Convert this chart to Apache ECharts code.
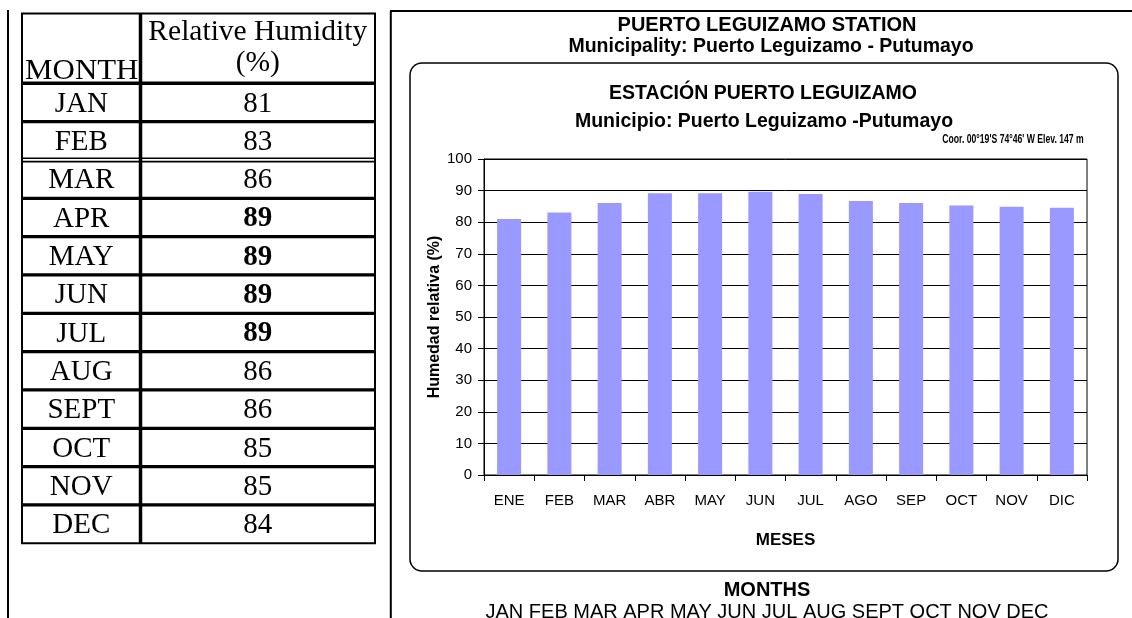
<!DOCTYPE html>
<html>
<head>
<meta charset="utf-8">
<script src="https://cdn.jsdelivr.net/npm/echarts@6/dist/echarts.min.js"></script>
<style>
  html, body { margin: 0; padding: 0; background: #ffffff; }
  #chart { width: 1132px; height: 618px; }
</style>
</head>
<body>
<div id="chart"></div>
<script>
// Monthly relative humidity (%) at Puerto Leguizamo station, Putumayo
const chartMonths = ['ENE', 'FEB', 'MAR', 'ABR', 'MAY', 'JUN', 'JUL', 'AGO', 'SEP', 'OCT', 'NOV', 'DIC'];
const chartHumidity = [81.0, 83.1, 86.1, 89.2, 89.2, 89.6, 88.9, 86.7, 86.1, 85.3, 84.9, 84.6];

// Same figures, rounded, as listed in the side table
const tableMonths = ['JAN', 'FEB', 'MAR', 'APR', 'MAY', 'JUN', 'JUL', 'AUG', 'SEPT', 'OCT', 'NOV', 'DEC'];
const tableHumidity = [81, 83, 86, 89, 89, 89, 89, 86, 86, 85, 85, 84];
const tableHeader = ['MONTH', 'Relative Humidity', '(%)'];

// Axis range of the humidity scale
const yMin = 0;
const yMax = 100;
const yStep = 10;

// Titles
const outerTitle = 'PUERTO LEGUIZAMO STATION';
const outerSubtitle = 'Municipality: Puerto Leguizamo - Putumayo';
const innerTitle = 'ESTACIÓN PUERTO LEGUIZAMO';
const innerSubtitle = 'Municipio: Puerto Leguizamo -Putumayo';
const stationInfo = "Coor. 00°19'S 74°46' W Elev. 147 m";
const yName = 'Humedad relativa (%)';
const xName = 'MESES';
const monthsCaption = 'MONTHS';

const SANS = "'Liberation Sans', Arial, Helvetica, sans-serif";
const SERIF = "'Liberation Serif', 'Times New Roman', serif";

// ---- table layout ----
const tbl = { left: 22, right: 375, top: 13.5, headBottom: 83.3, col: 140.5 };
const rowH = (543.3 - tbl.headBottom) / tableMonths.length;
const tbBottom = tbl.headBottom + rowH * tableMonths.length;
const doubleRuleAfter = 1; // a double rule separates FEB from MAR
const maxHumidity = Math.max(...tableHumidity);

function hLine(x1, x2, y, w) {
  return { type: 'line', silent: true, shape: { x1: x1, y1: y, x2: x2, y2: y },
           style: { stroke: '#000', lineWidth: w } };
}
function vLine(x, y1, y2, w) {
  return { type: 'line', silent: true, shape: { x1: x, y1: y1, x2: x, y2: y2 },
           style: { stroke: '#000', lineWidth: w } };
}
function label(text, x, y, size, opts) {
  opts = opts || {};
  return {
    type: 'text', silent: true, x: x, y: y,
    scaleX: opts.scaleX || 1,
    style: {
      text: text, fill: '#000', fontSize: size,
      fontFamily: opts.family || SANS, fontWeight: opts.bold ? 'bold' : 'normal',
      align: 'center', verticalAlign: 'middle'
    }
  };
}

const graphics = [];

// page cell rules
graphics.push(vLine(8, 10, 618, 2));
graphics.push(vLine(390.8, 11, 618, 2));
graphics.push(hLine(390, 1132, 11, 2));

// table frame
graphics.push({ type: 'rect', silent: true,
  shape: { x: tbl.left, y: tbl.top, width: tbl.right - tbl.left, height: tbBottom - tbl.top },
  style: { fill: 'none', stroke: '#000', lineWidth: 2 } });
graphics.push(vLine(tbl.col, tbl.top, tbBottom, 3.5));
graphics.push(hLine(tbl.left, tbl.right, tbl.headBottom, 3.5));

// header texts
const monthColX = (tbl.left + tbl.col) / 2;
const valueColX = (tbl.col + tbl.right) / 2;
graphics.push(label(tableHeader[0], monthColX + 0.5, 71, 30, { family: SERIF, scaleX: 1.03 }));
graphics.push(label(tableHeader[1], valueColX, 32, 29.5, { family: SERIF }));
graphics.push(label(tableHeader[2], valueColX, 63, 29.5, { family: SERIF }));

// body rows
tableMonths.forEach(function (m, i) {
  const top = tbl.headBottom + i * rowH;
  const cy = top + rowH / 2 + 1.5;
  if (i > 0) {
    if (i - 1 === doubleRuleAfter) {
      graphics.push(hLine(tbl.left, tbl.right, top - 1.7, 1.6));
      graphics.push(hLine(tbl.left, tbl.right, top + 1.7, 1.6));
    } else {
      graphics.push(hLine(tbl.left, tbl.right, top, 3.3));
    }
  }
  graphics.push(label(m, monthColX, cy, 29, { family: SERIF }));
  graphics.push(label(String(tableHumidity[i]), valueColX, cy, 29,
    { family: SERIF, bold: tableHumidity[i] === maxHumidity }));
});

// rounded frame around the chart
graphics.push({ type: 'rect', silent: true,
  shape: { x: 410, y: 63, width: 708, height: 508, r: 12 },
  style: { fill: 'none', stroke: '#000', lineWidth: 1.5 } });

// titles and captions
graphics.push(label(outerTitle, 767, 25, 20, { bold: true }));
graphics.push(label(outerSubtitle, 771, 47, 19.5, { bold: true }));
graphics.push(label(innerTitle, 763, 94, 19.5, { bold: true }));
graphics.push(label(innerSubtitle, 764, 122, 19.5, { bold: true }));
graphics.push(label(stationInfo, 1013, 139, 13.5, { bold: true, scaleX: 0.64 }));
graphics.push(label(monthsCaption, 767, 590, 20, { bold: true }));
graphics.push(label(tableMonths.join(' '), 767, 612, 20));

const chart = echarts.init(document.getElementById('chart'), null, { renderer: 'canvas' });
chart.setOption({
  animation: false,
  backgroundColor: '#ffffff',
  textStyle: { fontFamily: SANS, color: '#000' },
  grid: {
    left: 484, top: 159, width: 603, height: 316,
    show: true, borderColor: '#000', borderWidth: 1, backgroundColor: 'transparent',
    containLabel: false, outerBoundsMode: 'none'
  },
  xAxis: {
    type: 'category',
    data: chartMonths,
    boundaryGap: true,
    axisLine: { show: true, lineStyle: { color: '#000', width: 1 } },
    axisTick: { show: true, length: 6, alignWithLabel: false, lineStyle: { color: '#000', width: 1 } },
    axisLabel: { show: true, interval: 0, color: '#000', fontSize: 15, margin: 18, fontFamily: SANS },
    splitLine: { show: false },
    name: xName,
    nameLocation: 'middle',
    nameGap: 57,
    nameMoveOverlap: false,
    nameTextStyle: { color: '#000', fontSize: 17, fontWeight: 'bold', fontFamily: SANS }
  },
  yAxis: {
    type: 'value',
    min: yMin, max: yMax, interval: yStep,
    axisLine: { show: true, lineStyle: { color: '#000', width: 1 } },
    axisTick: { show: true, length: 6, lineStyle: { color: '#000', width: 1 } },
    axisLabel: { show: true, color: '#000', fontSize: 15, margin: 12, fontFamily: SANS },
    splitLine: { show: true, lineStyle: { color: '#000', width: 1 } },
    name: yName,
    nameLocation: 'middle',
    nameRotate: 90,
    nameGap: 41,
    nameMoveOverlap: false,
    nameTextStyle: { color: '#000', fontSize: 16, fontWeight: 'bold', fontFamily: SANS }
  },
  series: [{
    type: 'bar',
    data: chartHumidity,
    barWidth: 24,
    itemStyle: { color: '#9999ff' },
    emphasis: { disabled: true }
  }],
  graphic: graphics
});
</script>
</body>
</html>
